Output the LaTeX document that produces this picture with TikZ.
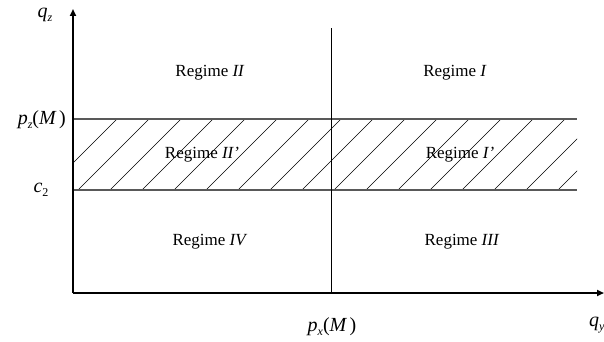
\documentclass[tikz,border=0pt]{standalone}
\usepackage{fontspec}
\setmainfont{Liberation Serif}
\tikzset{
  axis/.style={line width=2pt,-{Triangle[length=7pt,width=6pt]}},
  bandline/.style={draw=black!65,line width=1.4pt},
  hatch/.style={line width=0.6pt},
  divider/.style={line width=0.9pt},
  lbl/.style={font=\fontsize{17}{20}\selectfont,inner sep=0pt},
  mlbl/.style={font=\fontsize{20}{24}\selectfont,inner sep=0pt},
}
\usetikzlibrary{arrows.meta}
\newcommand{\vsub}[1]{\raisebox{-0.45ex}{\fontsize{12}{13}\selectfont\textit{#1}}}
\newcommand{\vsubup}[1]{\raisebox{-0.45ex}{\fontsize{12}{13}\selectfont #1}}
\begin{document}
\begin{tikzpicture}[x=1pt,y=1pt]
\useasboundingbox (0,0) rectangle (604,341);
\coordinate (O) at (73,48);
\coordinate (ytip) at (73,332);
\coordinate (xtip) at (604,48);
\coordinate (divtop) at (331,313);
\coordinate (divbot) at (331,48);
\coordinate (bandTL) at (73,222);
\coordinate (bandTR) at (577,222);
\coordinate (bandBL) at (73,151);
\coordinate (bandBR) at (577,151);
\begin{scope}
\clip (bandBL) rectangle (bandTR);
\foreach \x in {-29,3,...,600} {
  \draw[hatch] (\x+75,151) -- (\x+75+71,222);
}
\end{scope}
\draw[bandline] (bandTL) -- (bandTR);
\draw[bandline] (bandBL) -- (bandBR);
\draw[divider] (divtop) -- (divbot);
\draw[axis] (O) -- (ytip);
\draw[axis] (O) -- (xtip);
\node[mlbl] (qz) at (45,326) {\textit{q}\vsub{z}};
\node[mlbl,anchor=east] (pz) at (66,221) {\textit{p}\vsub{z}(\textit{M\,})};
\node[mlbl] (c2) at (41,151) {\textit{c}\vsubup{2}};
\node[mlbl] (px) at (332,14) {\textit{p}\vsub{x}(\textit{M\,})};
\node[mlbl,anchor=west] (qy) at (589,16) {\textit{q}\vsub{y}};
\node[lbl] (r2) at (210,268) {Regime \textit{II}};
\node[lbl] (r1) at (455,268) {Regime \textit{I}};
\node[lbl] (r2p) at (202,186) {Regime \textit{II'}};
\node[lbl] (r1p) at (460,186) {Regime \textit{I'}};
\node[lbl] (r4) at (210,99) {Regime \textit{IV}};
\node[lbl] (r3) at (462,99) {Regime \textit{III}};
\end{tikzpicture}
\end{document}
